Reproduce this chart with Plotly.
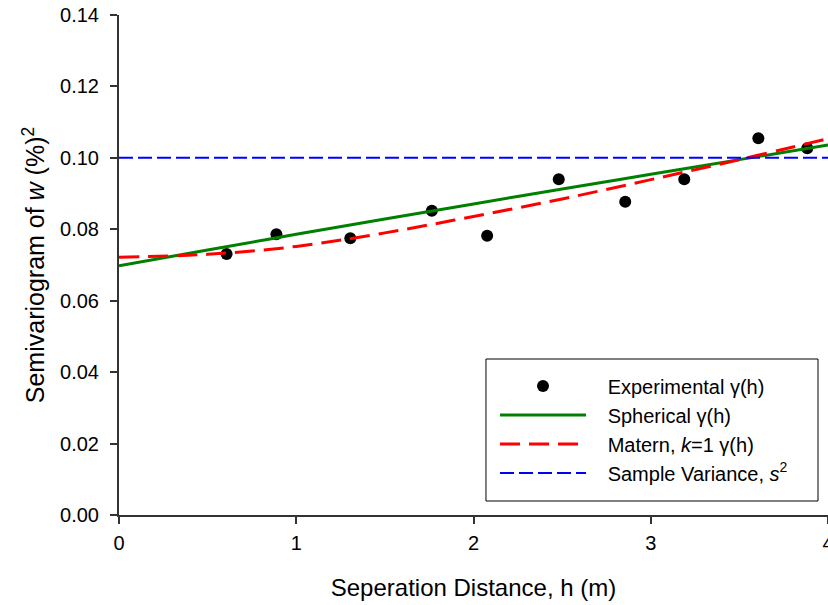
import plotly.graph_objects as go

# Experimental semivariogram
h_exp = [0.607, 0.888, 1.305, 1.765, 2.077, 2.481, 2.856, 3.189, 3.607, 3.883]
g_exp = [0.0731, 0.0786, 0.0775, 0.0852, 0.0782, 0.0940, 0.0877, 0.0940, 0.1055, 0.1027]

# Model curves
h_model = [0.0, 0.5, 1.0, 1.5, 2.0, 2.5, 3.0, 3.5, 4.0]
g_spherical = [0.0698, 0.0742, 0.0786, 0.0829, 0.0871, 0.0913, 0.0954, 0.0995, 0.1036]
g_matern = [0.0722, 0.0730, 0.0752, 0.0790, 0.0836, 0.0885, 0.0939, 0.0995, 0.1054]

# Sample variance
h_var = [0.0, 4.0]
g_var = [0.100, 0.100]

x_ticks = [0, 1, 2, 3, 4]
y_ticks = [0.00, 0.02, 0.04, 0.06, 0.08, 0.10, 0.12, 0.14]

FONT = "Arial, Liberation Sans, sans-serif"
PAD = "\u00a0\u00a0\u00a0"

fig = go.Figure()
fig.add_trace(go.Scatter(
    x=h_exp, y=g_exp, mode="markers", name=PAD + "Experimental γ(h)",
    marker=dict(color="black", size=12),
))
fig.add_trace(go.Scatter(
    x=h_model, y=g_spherical, mode="lines", name=PAD + "Spherical γ(h)",
    line=dict(color="#008000", width=3, shape="spline"),
))
fig.add_trace(go.Scatter(
    x=h_model, y=g_matern, mode="lines", name=PAD + "Matern, <i>k</i>=1 γ(h)",
    line=dict(color="#ff0000", width=3, dash="20px,9px", shape="spline"),
))
fig.add_trace(go.Scatter(
    x=h_var, y=g_var, mode="lines", name=PAD + "Sample Variance, <i>s</i><sup>2</sup>",
    line=dict(color="#0000ff", width=2, dash="14px,5px"),
))

# legend frame
fig.add_shape(type="rect", xref="paper", yref="paper",
              x0=0.5176, x1=0.9859, y0=0.028, y1=0.312,
              line=dict(color="black", width=1), fillcolor="white", layer="below")

fig.update_layout(
    width=828, height=605,
    margin=dict(l=119, r=0, t=15, b=90),
    paper_bgcolor="white", plot_bgcolor="white",
    font=dict(family=FONT, color="black", size=20),
    showlegend=True,
    legend=dict(
        x=0.5303, y=0.297, xanchor="left", yanchor="top",
        borderwidth=0, bgcolor="rgba(0,0,0,0)",
        font=dict(family=FONT, size=20, color="black"),
        itemwidth=86,
    ),
    xaxis=dict(
        range=[0, 4], tickvals=x_ticks, ticktext=[str(v) for v in x_ticks],
        showgrid=False, zeroline=False, showline=True, linecolor="#333333", linewidth=2,
        ticks="outside", ticklen=7, tickcolor="#333333", tickwidth=2,
        tickfont=dict(size=20), automargin=False, ticklabeloverflow="allow",
        ticklabelstandoff=2,
        title=dict(text="Seperation Distance, h (m)", font=dict(size=24), standoff=26),
    ),
    yaxis=dict(
        range=[0, 0.14], tickvals=y_ticks, ticktext=[f"{v:.2f}" for v in y_ticks],
        showgrid=False, zeroline=False, showline=True, linecolor="#333333", linewidth=2,
        ticks="outside", ticklen=7, tickcolor="#333333", tickwidth=2,
        tickfont=dict(size=20), automargin=False, ticklabelstandoff=7,
        title=dict(text="Semivariogram of <i>w</i> (%)<sup>2</sup>", font=dict(size=25), standoff=8),
    ),
)

fig.write_html("out.html")
